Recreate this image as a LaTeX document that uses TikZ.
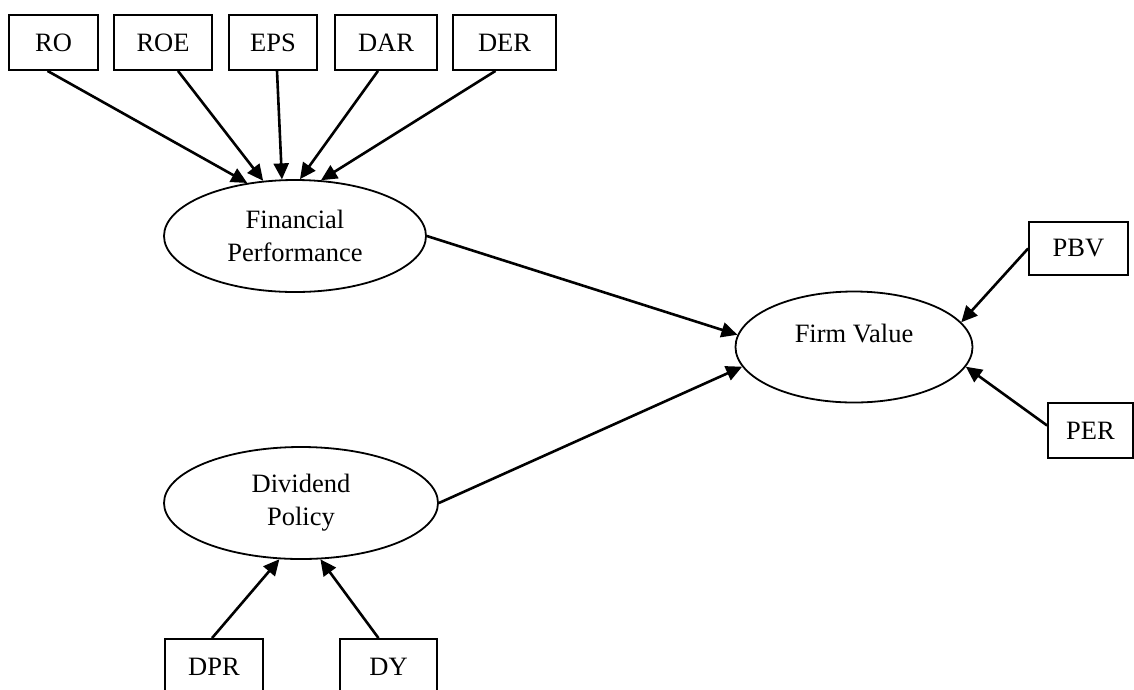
\documentclass[tikz,border=0pt]{standalone}
\usepackage{fontspec}
\setmainfont{Liberation Serif}
\usetikzlibrary{shapes.geometric,arrows.meta}

\tikzset{
    indbox/.style={draw, rectangle, line width=1.8pt, inner sep=0pt,
        minimum height=55pt, font=\fontsize{26.5}{33}\selectfont},
    latentvar/.style={draw, ellipse, line width=1.8pt, inner sep=0pt,
        minimum height=112pt, align=center, font=\fontsize{26.5}{33}\selectfont},
    loading/.style={line width=2.6pt, -{Triangle[length=16pt,width=15pt]}}
}

\begin{document}
\begin{tikzpicture}[x=1pt, y=-1pt]
    \useasboundingbox (0,0) rectangle (1134,689);
    \clip (0,0) rectangle (1134,689);

    % 1) Performance indicators
    \node[indbox, minimum width=89pt] (ro) at (53.5, 42.5) {RO};
    \node[indbox, minimum width=98pt] (roe) at (163, 42.5) {ROE};
    \node[indbox, minimum width=88pt] (eps) at (273, 42.5) {EPS};
    \node[indbox, minimum width=102pt] (dar) at (386, 42.5) {DAR};
    \node[indbox, minimum width=103pt] (der) at (504.5, 42.5) {DER};

    % 2) Latent variables
    \node[latentvar, minimum width=262pt] (fp) at (295, 236) {Financial\\Performance};
    \node[latentvar, minimum width=274pt] (dp) at (301, 503) {Dividend\\Policy};
    \node[latentvar, minimum width=237pt, minimum height=111pt, text depth=28pt] (fv) at (854, 347) {Firm Value};

    % 3) Value indicators
    \node[indbox, minimum width=99pt, minimum height=53pt] (pbv) at (1078.5, 248.5) {PBV};
    \node[indbox, minimum width=85pt] (per) at (1090.5, 430.5) {PER};

    % 4) Dividend indicators
    \node[indbox, minimum width=98pt] (dpr) at (214, 666.5) {DPR};
    \node[indbox, minimum width=97pt] (dy) at (388.5, 666.5) {DY};

    % Arrows into financial performance
    \draw[loading] ([xshift=-6pt]ro.south) -- (fp.132);
    \draw[loading] ([xshift=15pt]roe.south) -- (fp.120);
    \draw[loading] ([xshift=4pt]eps.south) -- (fp.103);
    \draw[loading] ([xshift=-8pt]dar.south) -- (fp.85);
    \draw[loading] ([xshift=-9pt]der.south) -- (fp.65);

    % Arrows into firm value
    \draw[loading] (fp.east) -- (fv.174);
    \draw[loading] (dp.east) -- (fv.190);
    \draw[loading] (pbv.west) -- (fv.13);
    \draw[loading] ([yshift=5pt]per.west) -- (fv.350);

    % Arrows into dividend policy
    \draw[loading] ([xshift=-2pt]dpr.north) -- (dp.249);
    \draw[loading] ([xshift=-10pt]dy.north) -- (dp.289);
\end{tikzpicture}
\end{document}
